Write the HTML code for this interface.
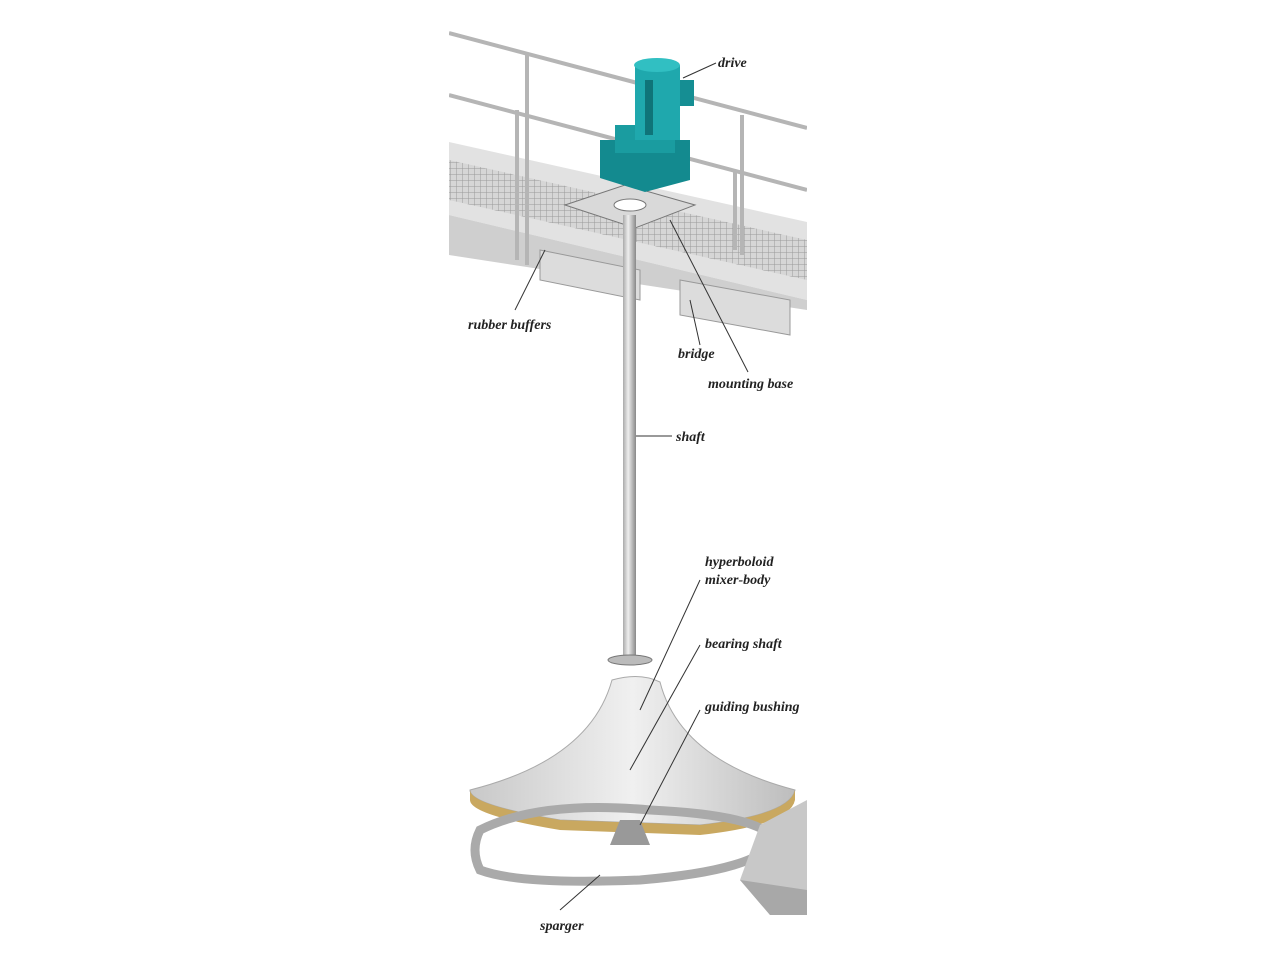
<!DOCTYPE html>
<html><head><meta charset="utf-8"><style>
html,body{margin:0;padding:0;background:#fff;}
svg{display:block}
text{font-family:"Liberation Serif",serif;font-style:italic;font-weight:bold;font-size:14px;fill:#222}
</style></head><body>
<svg width="1280" height="960" viewBox="0 0 1280 960" xmlns="http://www.w3.org/2000/svg">
<defs>
<linearGradient id="sh" x1="0" x2="1"><stop offset="0" stop-color="#aaa"/><stop offset="0.4" stop-color="#eee"/><stop offset="1" stop-color="#888"/></linearGradient>
<linearGradient id="cone" x1="0" x2="1"><stop offset="0" stop-color="#c8c8c8"/><stop offset="0.5" stop-color="#f0f0f0"/><stop offset="1" stop-color="#bdbdbd"/></linearGradient>
<pattern id="grid" width="6" height="6" patternUnits="userSpaceOnUse"><rect width="6" height="6" fill="#d6d6d6"/><path d="M0 0H6M0 0V6" stroke="#9a9a9a" stroke-width="1"/></pattern>
<clipPath id="c"><rect x="449" y="0" width="358" height="960"/></clipPath>
</defs>
<g clip-path="url(#c)">
<!-- bridge -->
<polygon points="449,142 807,222 807,300 449,215" fill="#e2e2e2"/>
<polygon points="449,160 807,240 807,280 449,200" fill="url(#grid)"/>
<polygon points="449,215 807,300 807,310 449,255" fill="#cfcfcf"/>
<polygon points="540,250 640,270 640,300 540,280" fill="#dcdcdc" stroke="#999"/>
<polygon points="680,280 790,300 790,335 680,315" fill="#dcdcdc" stroke="#999"/>
<!-- railings -->
<g stroke="#b5b5b5" stroke-width="4" fill="none">
<line x1="449" y1="33" x2="807" y2="128"/>
<line x1="449" y1="95" x2="807" y2="190"/>
<line x1="527" y1="54" x2="527" y2="265"/>
<line x1="517" y1="110" x2="517" y2="260"/>
<line x1="742" y1="115" x2="742" y2="255"/>
<line x1="735" y1="170" x2="735" y2="250"/>
</g>
<!-- mounting base -->
<polygon points="565,205 625,185 695,205 635,228" fill="#d9d9d9" stroke="#777"/>
<ellipse cx="630" cy="205" rx="16" ry="6" fill="#fff" stroke="#777"/>
<!-- motor -->
<polygon points="600,140 690,140 690,180 645,192 600,178" fill="#138a8f"/>
<rect x="615" y="125" width="60" height="28" fill="#1a9ca0"/>
<rect x="635" y="65" width="45" height="75" fill="#1fa8ad"/>
<ellipse cx="657" cy="65" rx="23" ry="7" fill="#31bfc2"/>
<rect x="680" y="80" width="14" height="26" fill="#158e93"/>
<rect x="645" y="80" width="8" height="55" fill="#0f7479"/>
<!-- shaft -->
<rect x="623" y="215" width="13" height="445" fill="url(#sh)"/>
<ellipse cx="630" cy="660" rx="22" ry="5" fill="#bbb" stroke="#777"/>
<!-- mixer body -->
<path d="M612,680 Q640,672 660,682 Q680,760 795,790 Q790,815 700,825 L560,820 Q470,805 470,790 Q590,760 612,680 Z" fill="url(#cone)" stroke="#aaa"/>
<path d="M470,790 Q470,805 560,820 L700,825 Q790,815 795,790 L795,800 Q790,825 700,835 L560,830 Q470,815 470,800 Z" fill="#c9a860"/>
<!-- sparger -->
<path d="M480,830 Q540,800 650,810 Q760,815 775,840 Q760,870 640,880 Q520,885 480,870 Q470,850 480,830 Z" fill="none" stroke="#aaa" stroke-width="9"/>
<polygon points="760,825 807,800 807,915 770,915 740,880" fill="#c8c8c8"/>
<polygon points="740,880 770,915 807,915 807,890" fill="#a8a8a8"/>
<polygon points="620,820 640,820 650,845 610,845" fill="#999"/>
<!-- leader lines -->
<g stroke="#333" stroke-width="1" fill="none">
<line x1="716" y1="63" x2="683" y2="78"/>
<line x1="515" y1="310" x2="545" y2="250"/>
<line x1="700" y1="345" x2="690" y2="300"/>
<line x1="748" y1="372" x2="670" y2="220"/>
<line x1="672" y1="436" x2="636" y2="436"/>
<line x1="700" y1="580" x2="640" y2="710"/>
<line x1="700" y1="645" x2="630" y2="770"/>
<line x1="700" y1="710" x2="640" y2="825"/>
<line x1="560" y1="910" x2="600" y2="875"/>
</g>
</g>
<text x="718" y="67">drive</text>
<text x="468" y="329">rubber buffers</text>
<text x="678" y="358">bridge</text>
<text x="708" y="388">mounting base</text>
<text x="676" y="441">shaft</text>
<text x="705" y="566">hyperboloid</text>
<text x="705" y="584">mixer-body</text>
<text x="705" y="648">bearing shaft</text>
<text x="705" y="711">guiding bushing</text>
<text x="540" y="930">sparger</text>
<rect x="807" y="0" width="473" height="960" fill="#fff"/>
</svg>
</body></html>
